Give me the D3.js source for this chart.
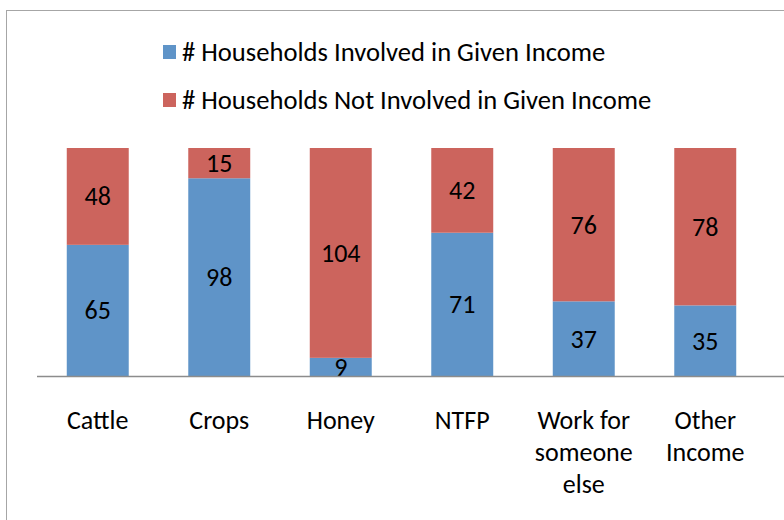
<!DOCTYPE html>
<html>
<head>
<meta charset="utf-8">
<script src="https://cdn.jsdelivr.net/npm/d3@7"></script>
<style>
	body { margin: 0; background: #fff; }
	svg { display: block; font-family: Carlito, "Liberation Sans Narrow", "Noto Sans", sans-serif; }
</style>
</head>
<body>
<div id="chart"></div>
<script>
//data
let categories = [["Cattle"], ["Crops"], ["Honey"], ["NTFP"], ["Work for", "someone", "else"], ["Other", "Income"]];
let involved = [65, 98, 9, 71, 37, 35];
let notInvolved = [48, 15, 104, 42, 76, 78];
let seriesNames = ["# Households Involved in Given Income", "# Households Not Involved in Given Income"];
let seriesColors = ["#5f94c8", "#cc645d"];

let width = 784;
let height = 520;

let svg = d3.select("#chart")
	.append("svg")
	.attr("width", width)
	.attr("height", height);

//chart frame
svg.append("rect")
	.attr("x", 6.5)
	.attr("y", 10.5)
	.attr("width", 800)
	.attr("height", 530)
	.attr("fill", "none")
	.attr("stroke", "#a6a6a6");

//scales
let xScale = d3.scaleBand()
	.domain(d3.range(categories.length))
	.range([37, 766])
	.paddingInner(0.49)
	.paddingOuter(0.245);

let yScale = d3.scaleLinear()
	.domain([0, 113])
	.range([376, 148]);

//stack the two series
let rows = involved.map((v, i) => ({ i: i, a: v, b: notInvolved[i] }));
let stacked = d3.stack().keys(["a", "b"])(rows);

let layers = svg.selectAll(".layer")
	.data(stacked)
	.enter()
	.append("g")
	.attr("fill", (d, k) => seriesColors[k]);

layers.selectAll("rect")
	.data(d => d)
	.enter()
	.append("rect")
	.attr("x", d => xScale(d.data.i))
	.attr("y", d => yScale(d[1]))
	.attr("width", xScale.bandwidth())
	.attr("height", d => yScale(d[0]) - yScale(d[1]));

//value labels
layers.selectAll("text")
	.data(d => d)
	.enter()
	.append("text")
	.attr("x", d => xScale(d.data.i) + xScale.bandwidth() / 2)
	.attr("y", d => (yScale(d[0]) + yScale(d[1])) / 2 + 9)
	.attr("text-anchor", "middle")
	.attr("fill", "#000")
	.style("font-size", "26px")
	.text(d => d[1] - d[0]);

//axis line
svg.append("line")
	.attr("x1", 37)
	.attr("x2", 784)
	.attr("y1", yScale(0) + 0.5)
	.attr("y2", yScale(0) + 0.5)
	.attr("stroke", "#8c8c8c")
	.attr("stroke-width", 1.5);

//category labels
svg.selectAll(".cat")
	.data(categories)
	.enter()
	.append("text")
	.attr("class", "cat")
	.attr("text-anchor", "middle")
	.style("font-size", "26px")
	.attr("fill", "#000")
	.each(function(lines, i) {
		d3.select(this).selectAll("tspan")
			.data(lines)
			.enter()
			.append("tspan")
			.attr("x", xScale(i) + xScale.bandwidth() / 2)
			.attr("y", (l, j) => 429 + j * 32)
			.text(l => l);
	});

//legend
let legend = svg.selectAll(".legend")
	.data(seriesNames)
	.enter()
	.append("g")
	.attr("transform", (d, k) => `translate(163,${45 + k * 48})`);

legend.append("rect")
	.attr("width", 13)
	.attr("height", 14)
	.attr("fill", (d, k) => seriesColors[k]);

legend.append("text")
	.attr("x", 19)
	.attr("y", 16)
	.style("font-size", "26.6px")
	.attr("fill", "#000")
	.text(d => d);
</script>
</body>
</html>
